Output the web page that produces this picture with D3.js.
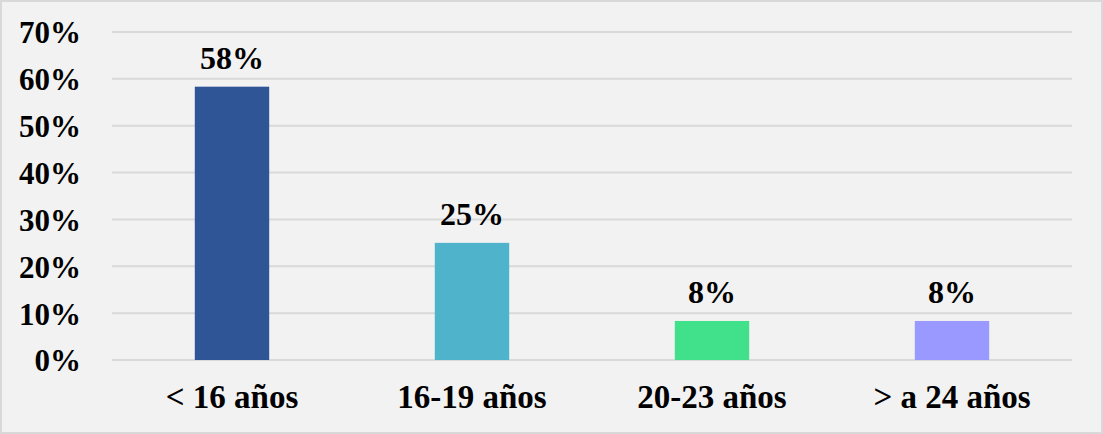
<!DOCTYPE html>
<html><head><meta charset="utf-8">
<script src="https://cdn.jsdelivr.net/npm/d3@7"></script>
<style>
html,body{margin:0;padding:0;background:#fff;}
svg text{font-family:"Liberation Serif","Times New Roman",serif;font-weight:bold;fill:#000;}
</style></head>
<body>
<svg id="c" width="1103" height="434"></svg>
<script>
const categories = ["< 16 años", "16-19 años", "20-23 años", "> a 24 años"];
const values = [58.33, 25.0, 8.33, 8.33];
const valueLabels = ["58%", "25%", "8%", "8%"];
const colors = ["#2f5597", "#4eb3cb", "#41e08a", "#9999ff"];
const yTicks = [0, 10, 20, 30, 40, 50, 60, 70];

(function () {
const W = 1103, H = 434;
const svg = d3.select("#c");
svg.append("rect").attr("x", 1).attr("y", 1).attr("width", W - 2).attr("height", H - 2)
  .attr("fill", "#f2f2f2").attr("stroke", "#d9d9d9").attr("stroke-width", 2);

const mLeft = 112, mRight = 1072, mTop = 32, mBottom = 360;
const x = d3.scaleBand().domain(categories).range([mLeft, mRight]).paddingInner(0.69).paddingOuter(0.345);
const y = d3.scaleLinear().domain([0, 70]).range([mBottom, mTop]);

const grid = svg.append("g");
grid.selectAll("line").data(yTicks).join("line")
  .attr("x1", mLeft).attr("x2", mRight)
  .attr("y1", d => y(d)).attr("y2", d => y(d))
  .attr("stroke", "#d9d9d9").attr("stroke-width", 2);

const yAxis = d3.axisLeft(y).tickValues(yTicks).tickFormat(d => d + "%").tickSize(0).tickPadding(0);
const ya = svg.append("g").attr("transform", "translate(81,0)").call(yAxis);
ya.select(".domain").remove();
ya.attr("font-size", 31).attr("font-family", null);
ya.selectAll("text").attr("font-size", 31).attr("dy", "0.35em");

svg.append("g").selectAll("rect").data(categories).join("rect")
  .attr("x", d => x(d)).attr("width", x.bandwidth())
  .attr("y", (d, i) => y(values[i])).attr("height", (d, i) => mBottom - y(values[i]))
  .attr("fill", (d, i) => colors[i]);

svg.append("g").selectAll("text").data(categories).join("text")
  .attr("x", d => x(d) + x.bandwidth() / 2)
  .attr("y", (d, i) => y(values[i]) - 18)
  .attr("text-anchor", "middle").attr("font-size", 32)
  .text((d, i) => valueLabels[i]);

const xAxis = d3.axisBottom(x).tickSize(0).tickPadding(0);
const xa = svg.append("g").attr("transform", `translate(0,${mBottom})`).call(xAxis);
xa.select(".domain").remove();
xa.attr("font-size", 33).attr("font-family", null);
xa.selectAll("text").attr("font-size", 33).attr("y", 48).attr("dy", 0);
})();
</script>
</body></html>
